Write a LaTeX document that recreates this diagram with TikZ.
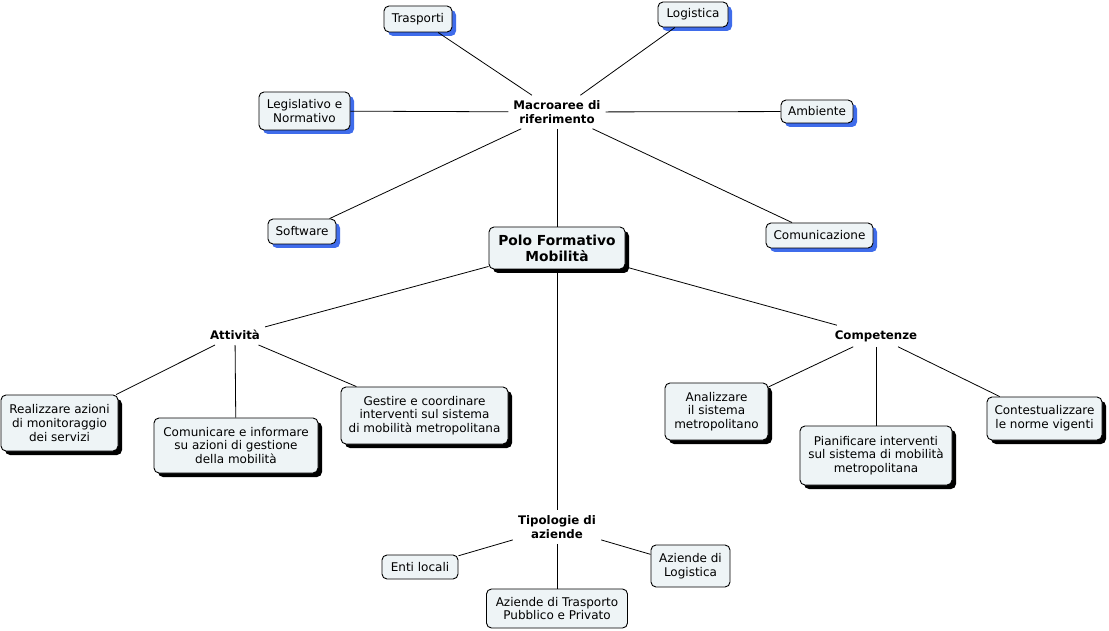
\documentclass[tikz,border=0pt]{standalone}
\usepackage{fontspec}
\setmainfont{DejaVu Sans}
\usetikzlibrary{shadows}
\definecolor{boxfill}{HTML}{EEF4F6}
\definecolor{shblue}{HTML}{3F6CEB}
\tikzset{
  box/.style={draw, rounded corners=5pt, fill=boxfill, line width=0.9pt, align=center,
    font=\fontsize{12}{13.8}\selectfont, inner sep=0pt},
  bshad/.style={drop shadow={shadow xshift=4pt, shadow yshift=-4pt, fill=shblue, opacity=1}},
  kshad/.style={drop shadow={shadow xshift=4pt, shadow yshift=-4pt, fill=black, opacity=1}},
  hub/.style={align=center, font=\bfseries\fontsize{11.8}{14}\selectfont, inner sep=5pt},
  conn/.style={line width=0.8pt}
}
\begin{document}
\begin{tikzpicture}[x=1pt,y=-1pt]
\useasboundingbox[fill=white] (0,0) rectangle (1109,631);
% hubs
\node[hub] (macro) at (557,112) {Macroaree di\\riferimento};
\node[hub] (att) at (235,335) {Attività};
\node[hub] (comp) at (876,336) {Competenze};
\node[hub] (tip) at (557,527) {Tipologie di\\aziende};
% center
\node[box, kshad, minimum width=136pt, minimum height=42pt, font=\bfseries\fontsize{13.8}{16}\selectfont] (polo) at (557,248) {Polo Formativo\\Mobilità};
% macroaree children
\node[box, bshad, minimum width=68pt, minimum height=26pt] (trasp) at (418,19) {Trasporti};
\node[box, bshad, minimum width=70pt, minimum height=25pt] (logi) at (693,14.5) {Logistica};
\node[box, bshad, minimum width=91pt, minimum height=38pt] (legis) at (304.5,111) {Legislativo e\\Normativo};
\node[box, bshad, minimum width=72pt, minimum height=23pt] (amb) at (817,111.5) {Ambiente};
\node[box, bshad, minimum width=68pt, minimum height=25pt] (soft) at (302,231.5) {Software};
\node[box, bshad, minimum width=107pt, minimum height=25pt] (comun) at (819.5,235.5) {Comunicazione};
% attivita children
\node[box, kshad, minimum width=117pt, minimum height=56pt] (real) at (59.5,423) {Realizzare azioni\\di monitoraggio\\dei servizi};
\node[box, kshad, minimum width=164pt, minimum height=55pt] (comin) at (236,445.5) {Comunicare e informare\\su azioni di gestione\\della mobilità};
\node[box, kshad, minimum width=167pt, minimum height=57pt] (gest) at (424.5,415.5) {Gestire e coordinare\\interventi sul sistema\\di mobilità metropolitana};
% competenze children
\node[box, kshad, minimum width=103pt, minimum height=57pt] (anal) at (716.5,411.5) {Analizzare\\il sistema\\metropolitano};
\node[box, kshad, minimum width=152pt, minimum height=59pt] (pian) at (876,455.5) {Pianificare interventi\\sul sistema di mobilità\\metropolitana};
\node[box, kshad, minimum width=115pt, minimum height=43pt] (cont) at (1044.5,418.5) {Contestualizzare\\le norme vigenti};
% tipologie children
\node[box, minimum width=76pt, minimum height=24pt] (enti) at (420,567) {Enti locali};
\node[box, minimum width=141pt, minimum height=39pt] (aztr) at (557,608.5) {Aziende di Trasporto\\Pubblico e Privato};
\node[box, minimum width=79pt, minimum height=42pt] (azlo) at (690.5,566) {Aziende di\\Logistica};
% connectors
\draw[conn] (macro) -- (trasp);
\draw[conn] (macro) -- (logi);
\draw[conn] (macro) -- (legis);
\draw[conn] (macro) -- (amb);
\draw[conn] (macro) -- (soft);
\draw[conn] (macro) -- (comun);
\draw[conn] (macro) -- (polo);
\draw[conn] (polo) -- (att);
\draw[conn] (polo) -- (comp);
\draw[conn] (polo) -- (tip);
\draw[conn] (att) -- (real);
\draw[conn] (att) -- (comin);
\draw[conn] (att) -- (gest);
\draw[conn] (comp) -- (anal);
\draw[conn] (comp) -- (pian);
\draw[conn] (comp) -- (cont);
\draw[conn] (tip) -- (enti);
\draw[conn] (tip) -- (aztr);
\draw[conn] (tip) -- (azlo);
\end{tikzpicture}
\end{document}
